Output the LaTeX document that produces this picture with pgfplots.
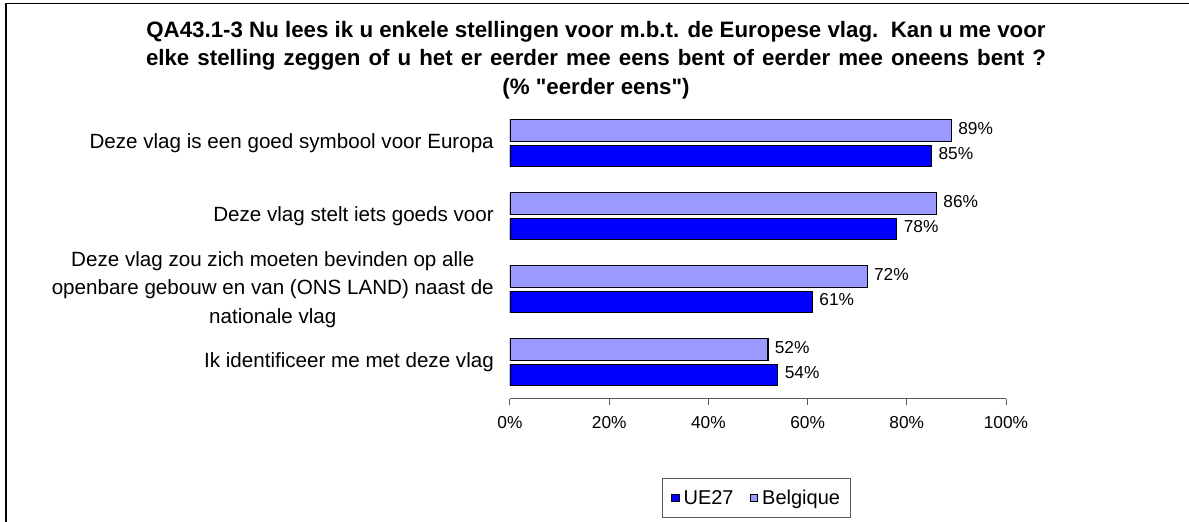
\documentclass[border=0pt]{standalone}
\usepackage{pgfplots}
\pgfplotsset{compat=1.18}
\usepackage{fontspec}
\setmainfont{Liberation Sans}[Ligatures=TeXOff]
\definecolor{ue}{HTML}{0000FF}
\definecolor{be}{HTML}{9999FF}
\begin{document}
\begin{tikzpicture}
\useasboundingbox (0,0) rectangle (1189pt,-522pt);
\draw[line width=1.3pt] (6pt,-522pt) -- (6pt,-3.5pt) -- (1189pt,-3.5pt);
\node[align=center, font=\fontsize{22.3}{28.7}\selectfont\bfseries] at (596pt,-60pt)
  {QA43.1-3 Nu lees ik u enkele stellingen voor m.b.t. de Europese vlag.\ \ Kan u me voor\\
   \hbox to 900pt{elke stelling zeggen of u het er eerder mee eens bent of eerder mee oneens bent ?}\\
   (\% "eerder eens")};
\begin{axis}[
  at={(510pt,-398.8pt)}, anchor=south west,
  scale only axis, width=496pt, height=292pt,
  xmin=0, xmax=100, ymin=-0.5, ymax=3.5,
  xbar, bar width=21.5pt,
  axis x line*=bottom, axis y line*=left,
  y axis line style={draw=none},
  x axis line style={draw=gray!70!black, line width=1pt},
  xtick={0,20,...,100},
  xtick style={draw=gray!70!black, line width=1pt},
  tick align=outside, major tick length=6pt,
  ytick={0,1,2,3}, ytick style={draw=none},
  /pgf/number format/assume math mode=true,
  xticklabel={\pgfmathprintnumber{\tick}\%},
  x tick label style={font=\fontsize{17.3}{20}\selectfont, yshift=-8pt},
  yticklabels={Ik identificeer me met deze vlag,
    {Deze vlag zou zich moeten bevinden op alle\\openbare gebouw en van (ONS LAND) naast de\\nationale vlag},
    Deze vlag stelt iets goeds voor,
    Deze vlag is een goed symbool voor Europa},
  y tick label style={align=center, font=\fontsize{20.6}{28.4}\selectfont, inner xsep=0pt, xshift=-10pt},
  nodes near coords={\pgfmathprintnumber{\pgfplotspointmeta}\%},
  nodes near coords style={font=\fontsize{17.3}{20}\selectfont, anchor=west, xshift=3pt, yshift=2.5pt},
  legend style={at={(0.497,-0.34)}, anchor=center, draw=gray!70!black, line width=1pt,
    font=\fontsize{20}{24}\selectfont, inner xsep=8pt, inner ysep=8.5pt,
    nodes={inner xsep=2pt, inner ysep=3pt},
    /tikz/every odd column/.append style={column sep=2pt},
    /tikz/every even column/.append style={column sep=14pt}},
  legend columns=2,
  legend image code/.code={\draw[#1, line width=1pt] (0pt,-3.8pt) rectangle (7.6pt,3.8pt);},
]
\addplot[fill=ue, draw=black, line width=1.2pt, bar shift=-12.75pt] coordinates {(54,0) (61,1) (78,2) (85,3)};
\addplot[fill=be, draw=black, line width=1.2pt, bar shift=12.75pt] coordinates {(52,0) (72,1) (86,2) (89,3)};
\legend{UE27, Belgique}
\end{axis}
\end{tikzpicture}
\end{document}
